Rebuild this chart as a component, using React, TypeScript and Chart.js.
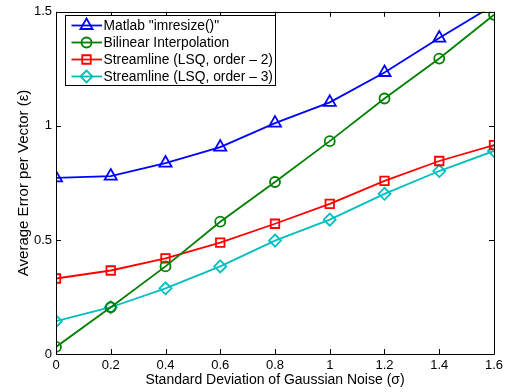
import React, { useEffect, useRef } from 'react';
import { Chart, registerables } from 'chart.js';

Chart.register(...registerables);

const xValues = [0, 0.2, 0.4, 0.6, 0.8, 1.0, 1.2, 1.4, 1.6];
const matlabImresize = [0.772, 0.78, 0.837, 0.907, 1.012, 1.103, 1.234, 1.385, 1.53];
const bilinearInterp = [0.031, 0.205, 0.384, 0.58, 0.754, 0.933, 1.12, 1.295, 1.487];
const streamlineOrder2 = [0.331, 0.366, 0.419, 0.488, 0.571, 0.658, 0.759, 0.846, 0.916];
const streamlineOrder3 = [0.144, 0.205, 0.288, 0.384, 0.497, 0.589, 0.702, 0.802, 0.89];

const seriesNames = [
  'Matlab "imresize()"',
  'Bilinear Interpolation',
  'Streamline (LSQ, order \u2013 2)',
  'Streamline (LSQ, order \u2013 3)',
];
const xTickValues = [0, 0.2, 0.4, 0.6, 0.8, 1, 1.2, 1.4, 1.6];
const yTickValues = [0, 0.5, 1, 1.5];
const xTitle = 'Standard Deviation of Gaussian Noise (\u03c3)';
const yTitle = 'Average Error per Vector (\u03b5)';

const FONT = '"Liberation Sans", Arial, Helvetica, sans-serif';

const seriesStyles = [
  { color: '#0000ff', point: 'triangle', radius: 7 },
  { color: '#008000', point: 'circle', radius: 5 },
  { color: '#ff0000', point: 'rect', radius: 6 },
  { color: '#00bfbf', point: 'rectRot', radius: 6 },
];

function drawMarker(ctx: CanvasRenderingContext2D, style: string, x: number, y: number, r: number) {
  ctx.beginPath();
  if (style === 'triangle') {
    ctx.moveTo(x, y - r);
    ctx.lineTo(x + Math.sin((2 * Math.PI) / 3) * r, y - Math.cos((2 * Math.PI) / 3) * r);
    ctx.lineTo(x + Math.sin((4 * Math.PI) / 3) * r, y - Math.cos((4 * Math.PI) / 3) * r);
    ctx.closePath();
  } else if (style === 'circle') {
    ctx.arc(x, y, r, 0, Math.PI * 2);
  } else if (style === 'rect') {
    const s = r * Math.SQRT1_2;
    ctx.rect(x - s, y - s, 2 * s, 2 * s);
  } else {
    ctx.moveTo(x - r, y);
    ctx.lineTo(x, y - r);
    ctx.lineTo(x + r, y);
    ctx.lineTo(x, y + r);
    ctx.closePath();
  }
  ctx.stroke();
}

const framePlugin = {
  id: 'matlabFrame',
  afterDraw(chart: any) {
    const { ctx, chartArea } = chart;
    const { left, right, top, bottom } = chartArea;
    const xs = chart.scales.x;
    const ys = chart.scales.y;
    ctx.save();
    ctx.strokeStyle = '#000';
    ctx.lineWidth = 1;
    ctx.beginPath();
    ctx.rect(Math.round(left) + 0.5, Math.round(top) + 0.5, Math.round(right - left), Math.round(bottom - top));
    ctx.stroke();
    const tl = 5;
    ctx.beginPath();
    xTickValues.forEach((v) => {
      const px = Math.round(xs.getPixelForValue(v)) + 0.5;
      ctx.moveTo(px, bottom);
      ctx.lineTo(px, bottom - tl);
      ctx.moveTo(px, top);
      ctx.lineTo(px, top + tl);
    });
    yTickValues.forEach((v) => {
      const py = Math.round(ys.getPixelForValue(v)) + 0.5;
      ctx.moveTo(left, py);
      ctx.lineTo(left + tl, py);
      ctx.moveTo(right, py);
      ctx.lineTo(right - tl, py);
    });
    ctx.stroke();

    // legend box
    const lx = 65.5;
    const ly = 15.5;
    const lw = 210;
    const lh = 70;
    ctx.fillStyle = '#fff';
    ctx.fillRect(lx, ly, lw, lh);
    ctx.strokeStyle = '#000';
    ctx.lineWidth = 1;
    ctx.strokeRect(lx, ly, lw, lh);
    ctx.font = '13.8px ' + FONT;
    ctx.textBaseline = 'middle';
    ctx.textAlign = 'left';
    seriesNames.forEach((name, i) => {
      const st = seriesStyles[i];
      const cy = ly + 10 + i * 17;
      ctx.strokeStyle = st.color;
      ctx.lineWidth = 1.8;
      ctx.beginPath();
      ctx.moveTo(lx + 6, cy);
      ctx.lineTo(lx + 36.5, cy);
      ctx.stroke();
      drawMarker(ctx, st.point, lx + 21, cy, st.radius);
      ctx.fillStyle = '#000';
      ctx.fillText(name, lx + 38, cy + 0.5);
    });
    ctx.restore();
  },
};

export default function App() {
  const ref = useRef<HTMLCanvasElement | null>(null);
  useEffect(() => {
    document.body.style.margin = '0';
    const canvas = ref.current;
    if (!canvas) return;
    const seriesData = [matlabImresize, bilinearInterp, streamlineOrder2, streamlineOrder3];
    const chart = new Chart(canvas, {
      type: 'line',
      data: {
        datasets: seriesData.map((vals, i) => ({
          label: seriesNames[i],
          data: xValues.map((x, j) => ({ x, y: vals[j] })),
          borderColor: seriesStyles[i].color,
          backgroundColor: 'rgba(0,0,0,0)',
          borderWidth: 1.8,
          pointStyle: seriesStyles[i].point as any,
          pointRadius: seriesStyles[i].radius,
          pointBorderWidth: 1.8,
          pointBorderColor: seriesStyles[i].color,
          pointBackgroundColor: 'rgba(0,0,0,0)',
          tension: 0,
          fill: false,
        })),
      },
      options: {
        responsive: false,
        animation: false,
        devicePixelRatio: 1,
        layout: { padding: { top: 10, right: 18, left: 0, bottom: 0 } },
        plugins: {
          legend: { display: false },
          tooltip: { enabled: false },
        },
        scales: {
          x: {
            type: 'linear',
            min: 0,
            max: 1.6,
            grid: { display: false, drawTicks: false },
            border: { display: false },
            afterBuildTicks: (s: any) => {
              s.ticks = xTickValues.map((v) => ({ value: v }));
            },
            afterFit: (s: any) => {
              s.height = 38;
            },
            ticks: {
              color: '#000',
              padding: 4,
              maxRotation: 0,
              autoSkip: false,
              font: { family: FONT, size: 13 },
              callback: (v: any) => String(v),
            },
            title: {
              display: true,
              text: xTitle,
              color: '#000',
              padding: { top: 0, bottom: 3 },
              font: { family: FONT, size: 14 },
            },
          },
          y: {
            type: 'linear',
            min: 0,
            max: 1.5,
            grid: { display: false, drawTicks: false },
            border: { display: false },
            afterBuildTicks: (s: any) => {
              s.ticks = yTickValues.map((v) => ({ value: v }));
            },
            afterFit: (s: any) => {
              s.width = 56;
            },
            ticks: {
              color: '#000',
              padding: 4,
              autoSkip: false,
              font: { family: FONT, size: 13 },
              callback: (v: any) => String(v),
            },
            title: {
              display: true,
              text: yTitle,
              color: '#000',
              padding: { top: 15, bottom: 0 },
              font: { family: FONT, size: 15 },
            },
          },
        },
      },
      plugins: [framePlugin],
    });
    return () => chart.destroy();
  }, []);
  return (
    <div style={{ width: 512, height: 392 }}>
      <canvas ref={ref} width={512} height={392} style={{ display: 'block' }} />
    </div>
  );
}
